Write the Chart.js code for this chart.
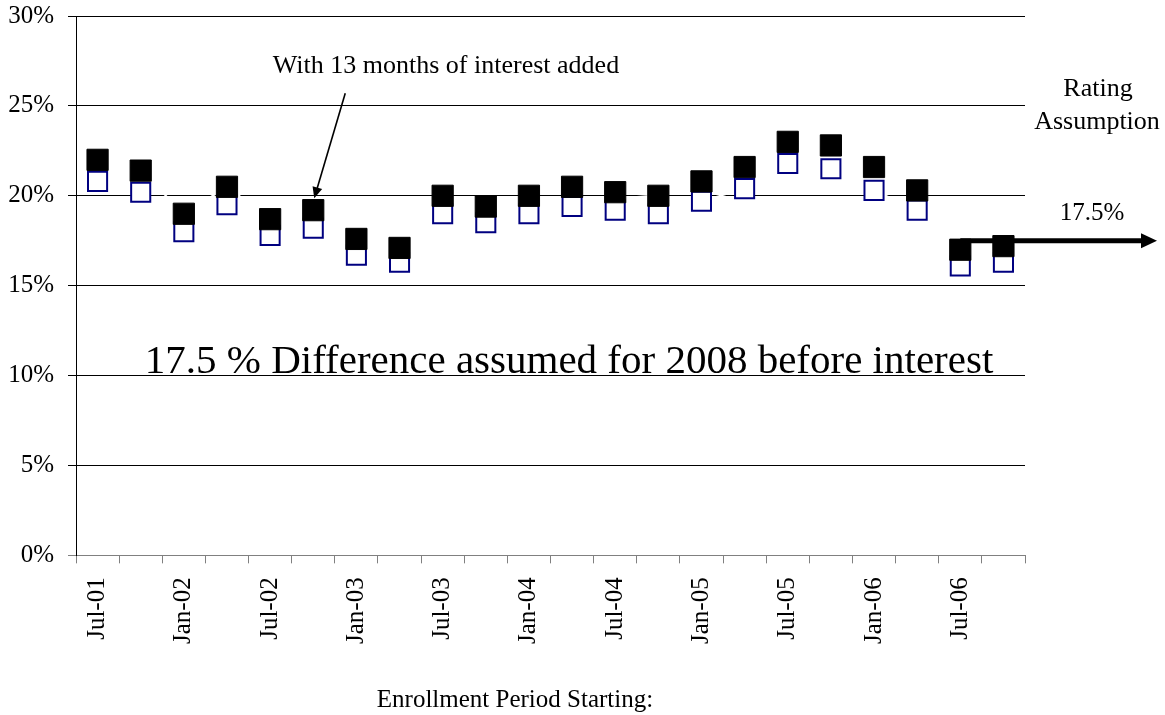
<!DOCTYPE html>
<html>
<head>
<meta charset="utf-8">
<script src="https://cdn.jsdelivr.net/npm/chart.js@4.4.1/dist/chart.umd.min.js"></script>
<style>
  html, body { margin: 0; padding: 0; background: #fff; }
  #wrap { width: 1165px; height: 715px; position: relative; }
</style>
</head>
<body>
<div id="wrap"><canvas id="chart"></canvas></div>
<script>
// Quarterly enrollment periods (only every other one gets a tick label)
const periods = [
    'Jul-01', 'Oct-01', 'Jan-02', 'Apr-02', 'Jul-02', 'Oct-02',
    'Jan-03', 'Apr-03', 'Jul-03', 'Oct-03', 'Jan-04', 'Apr-04',
    'Jul-04', 'Oct-04', 'Jan-05', 'Apr-05', 'Jul-05', 'Oct-05',
    'Jan-06', 'Apr-06', 'Jul-06', 'Oct-06',
];

// Difference with 13 months of interest added (filled squares)
const withInterest = [
    22.0, 21.4, 19.0, 20.5, 18.7, 19.2, 17.6, 17.1, 20.0, 19.4, 20.0,
    20.5, 20.2, 20.0, 20.8, 21.6, 23.0, 22.8, 21.6, 20.3, 17.0, 17.2,
];

// Difference before interest (open squares)
const beforeInterest = [
    20.8, 20.2, 18.0, 19.5, 17.8, 18.2, 16.7, 16.3, 19.0, 18.5, 19.0,
    19.4, 19.2, 19.0, 19.7, 20.4, 21.8, 21.5, 20.3, 19.2, 16.1, 16.3,
];

const yTicks = [0, 5, 10, 15, 20, 25, 30];
const RATING_ASSUMPTION = 17.5;

const FONT = "'Liberation Serif', 'Times New Roman', serif";
const NAVY = '#000080';
const AXIS_GRAY = '#808080';

function text(ctx, str, x, y, size) {
    ctx.font = size + 'px ' + FONT;
    ctx.fillStyle = '#000';
    ctx.textAlign = 'center';
    ctx.textBaseline = 'alphabetic';
    ctx.fillText(str, x, y);
}

const annotations = {
    id: 'annotations',
    beforeDatasetsDraw(chart) {
        // Thick "rating assumption" arrow, behind the markers
        const { ctx, chartArea, scales: { x, y } } = chart;
        const yv = y.getPixelForValue(RATING_ASSUMPTION);
        const x0 = x.getPixelForValue(periods.length - 2);
        const tip = chartArea.right + 132;
        ctx.save();
        ctx.strokeStyle = '#000';
        ctx.fillStyle = '#000';
        ctx.lineWidth = 5;
        ctx.beginPath();
        ctx.moveTo(x0, yv);
        ctx.lineTo(tip - 15, yv);
        ctx.stroke();
        ctx.beginPath();
        ctx.moveTo(tip, yv);
        ctx.lineTo(tip - 16, yv - 7.5);
        ctx.lineTo(tip - 16, yv + 7.5);
        ctx.closePath();
        ctx.fill();
        ctx.restore();
    },
    afterDatasetsDraw(chart) {
        const { ctx, chartArea, scales: { x, y } } = chart;
        const right = chartArea.right;
        const yv = y.getPixelForValue(RATING_ASSUMPTION);
        ctx.save();

        text(ctx, 'Rating', right + 73, 96, 26);
        text(ctx, 'Assumption', right + 72, 129, 26);
        text(ctx, '17.5%', right + 67, yv - 21, 25);

        text(ctx, 'With 13 months of interest added', 446, 73, 26);

        // thin pointer to the filled marker
        const tx = x.getPixelForValue(5) + 1;
        const ty = y.getPixelForValue(withInterest[5]) - 12;
        const sx = tx + 31, sy = ty - 105;
        const ang = Math.atan2(ty - sy, tx - sx);
        ctx.strokeStyle = '#000';
        ctx.fillStyle = '#000';
        ctx.lineWidth = 1.6;
        ctx.beginPath();
        ctx.moveTo(sx, sy);
        ctx.lineTo(tx - 8 * Math.cos(ang), ty - 8 * Math.sin(ang));
        ctx.stroke();
        ctx.beginPath();
        ctx.moveTo(tx, ty);
        ctx.lineTo(tx - 11 * Math.cos(ang) + 5 * Math.sin(ang), ty - 11 * Math.sin(ang) - 5 * Math.cos(ang));
        ctx.lineTo(tx - 11 * Math.cos(ang) - 5 * Math.sin(ang), ty - 11 * Math.sin(ang) + 5 * Math.cos(ang));
        ctx.closePath();
        ctx.fill();

        text(ctx, '17.5 % Difference assumed for 2008 before interest', 569, y.getPixelForValue(10) - 3, 41);

        text(ctx, 'Enrollment Period Starting:', 515, 707, 25);
        ctx.restore();
    },
};

const markerBase = {
    showLine: false,
    pointStyle: 'rect',
    pointHoverRadius: 0,
};

new Chart(document.getElementById('chart'), {
    type: 'line',
    data: {
        labels: periods,
        datasets: [
            {
                ...markerBase,
                label: 'With 13 months of interest',
                data: withInterest,
                pointRadius: 15,
                pointBackgroundColor: '#000',
                pointBorderColor: '#000',
                pointBorderWidth: 1,
                order: 1,
            },
            {
                ...markerBase,
                label: 'Before interest',
                data: beforeInterest,
                pointRadius: 13.5,
                pointBackgroundColor: '#fff',
                pointBorderColor: NAVY,
                pointBorderWidth: 2,
                order: 2,
            },
            // hidden white connector lines (they break the gridline where they cross it)
            {
                label: 'link-a',
                data: withInterest,
                borderColor: '#fff',
                borderWidth: 2,
                pointRadius: 0,
                tension: 0,
                order: 3,
            },
            {
                label: 'link-b',
                data: beforeInterest,
                borderColor: '#fff',
                borderWidth: 2,
                pointRadius: 0,
                tension: 0,
                order: 4,
            },
        ],
    },
    options: {
        responsive: true,
        maintainAspectRatio: false,
        animation: false,
        events: [],
        layout: { padding: { left: 0, right: 140, top: 15, bottom: 57 } },
        plugins: {
            legend: { display: false },
            tooltip: { enabled: false },
        },
        scales: {
            x: {
                type: 'category',
                offset: true,
                grid: {
                    offset: true,
                    drawOnChartArea: false,
                    drawTicks: true,
                    tickLength: 8,
                    color: AXIS_GRAY,
                },
                border: { display: true, color: AXIS_GRAY, width: 1 },
                ticks: {
                    autoSkip: false,
                    maxRotation: 90,
                    minRotation: 90,
                    padding: 14,
                    color: '#000',
                    font: { family: FONT, size: 25 },
                    callback: (v, i) => (i % 2 === 0 ? periods[i] : ''),
                },
            },
            y: {
                min: yTicks[0],
                max: yTicks[yTicks.length - 1],
                afterBuildTicks: (scale) => { scale.ticks = yTicks.map(v => ({ value: v })); },
                afterFit: (scale) => {
                    scale.width = 76;
                    scale.paddingTop = 0;
                    scale.paddingBottom = 0;
                },
                grid: {
                    color: (c) => (c.tick && c.tick.value === 0 ? AXIS_GRAY : '#000'),
                    lineWidth: 1,
                    tickLength: 8,
                },
                border: { display: true, color: '#000', width: 1 },
                ticks: {
                    padding: 14,
                    color: '#000',
                    font: { family: FONT, size: 25 },
                    callback: (v) => v + '%',
                },
            },
        },
    },
    plugins: [annotations],
});
</script>
</body>
</html>
